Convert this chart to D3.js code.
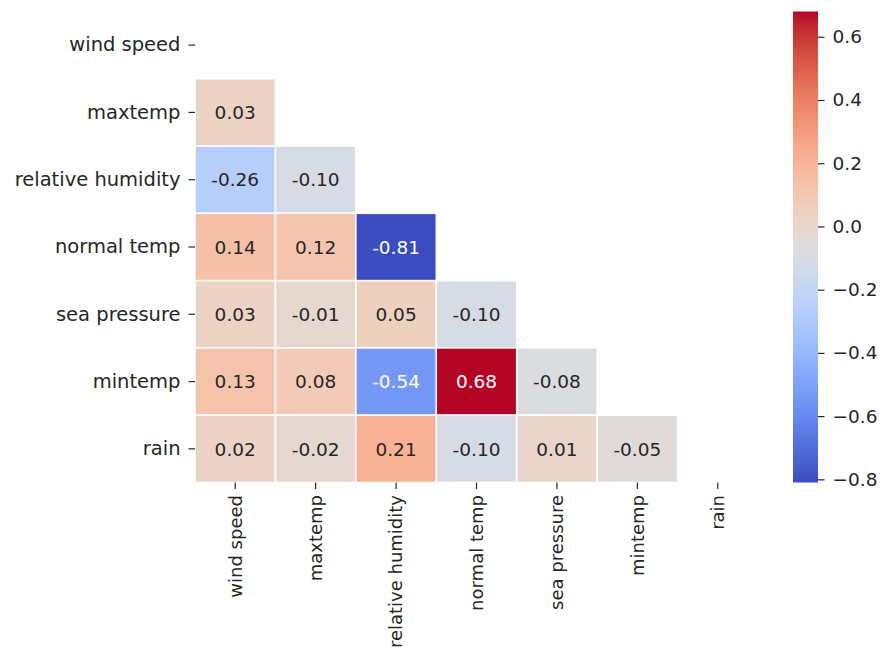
<!DOCTYPE html>
<html>
<head>
<meta charset="utf-8">
<script src="https://cdn.jsdelivr.net/npm/d3@7"></script>
<style>
  body { margin: 0; background: #fff; }
  svg text { font-family: "DejaVu Sans", sans-serif; }
</style>
</head>
<body>
<svg id="chart" width="882" height="651"></svg>
<script>
// Variable names, shared by rows and columns
const variables = ["wind speed", "maxtemp", "relative humidity", "normal temp", "sea pressure", "mintemp", "rain"];

// Lower triangle of the correlation matrix: row i holds columns 0..i-1
const corrRows = [
  [],
  [0.03],
  [-0.26, -0.10],
  [0.14, 0.12, -0.81],
  [0.03, -0.01, 0.05, -0.10],
  [0.13, 0.08, -0.54, 0.68, -0.08],
  [0.02, -0.02, 0.21, -0.10, 0.01, -0.05]
];

// Colour bar tick values
const colorbarTicks = [0.6, 0.4, 0.2, 0.0, -0.2, -0.4, -0.6, -0.8];

// Diverging "coolwarm" colour map anchors (evenly spaced, low to high)
const coolwarmStops = [
  [59,76,192],[68,90,204],[77,104,215],[87,117,225],[98,130,234],[108,142,241],
  [119,154,247],[130,165,251],[141,176,254],[152,185,255],[163,194,255],[174,201,253],
  [184,208,249],[194,213,244],[204,217,238],[213,219,230],[221,221,221],[229,216,209],
  [236,211,197],[241,204,185],[245,196,173],[247,187,160],[247,177,148],[247,166,135],
  [244,154,123],[241,141,111],[236,127,99],[229,112,88],[222,96,77],[213,80,66],
  [203,62,56],[192,40,47],[180,4,38]
];

const svg = d3.select("#chart");
const annotSize = 18.5;
const rowLabelSize = 19.5;
const colLabelSize = 18;
const cbLabelSize = 18.5;
const textDark = "#262626";

const cells = [];
corrRows.forEach((row, i) => row.forEach((v, j) => cells.push({ row: variables[i], col: variables[j], value: v })));

const vmin = d3.min(cells, d => d.value);
const vmax = d3.max(cells, d => d.value);

const coolwarm = d3.piecewise(d3.interpolateRgb, coolwarmStops.map(c => d3.rgb(c[0], c[1], c[2])));
const color = d3.scaleSequential(coolwarm).domain([vmin, vmax]);

const grid = { left: 195, right: 758, top: 11.5, bottom: 482.5 };
const x = d3.scaleBand().domain(variables).range([grid.left, grid.right]);
const y = d3.scaleBand().domain(variables).range([grid.top, grid.bottom]);

// Relative luminance, used to pick light or dark annotation text
function luminance(c) {
  const rgb = d3.rgb(c);
  const lin = [rgb.r, rgb.g, rgb.b].map(v => {
    v /= 255;
    return v <= 0.03928 ? v / 12.92 : Math.pow((v + 0.055) / 1.055, 2.4);
  });
  return 0.2126 * lin[0] + 0.7152 * lin[1] + 0.0722 * lin[2];
}

// Heatmap cells
const g = svg.append("g");
g.selectAll("rect.cell")
  .data(cells)
  .join("rect")
  .attr("class", "cell")
  .attr("x", d => x(d.col))
  .attr("y", d => y(d.row))
  .attr("width", x.bandwidth())
  .attr("height", y.bandwidth())
  .attr("fill", d => color(d.value))
  .attr("stroke", "#fff")
  .attr("stroke-width", 1.5);

g.selectAll("text.annot")
  .data(cells)
  .join("text")
  .attr("class", "annot")
  .attr("x", d => x(d.col) + x.bandwidth() / 2)
  .attr("y", d => y(d.row) + y.bandwidth() / 2)
  .attr("text-anchor", "middle")
  .attr("dy", "0.36em")
  .attr("font-size", annotSize)
  .attr("fill", d => luminance(color(d.value)) > 0.408 ? textDark : "#fff")
  .text(d => d3.format(".2f")(d.value).replace("−", "-"));

// Y axis
const yAxis = svg.append("g")
  .attr("transform", `translate(${grid.left},0)`)
  .call(d3.axisLeft(y).tickSize(6.5).tickPadding(8));
yAxis.select(".domain").remove();
yAxis.selectAll(".tick line").attr("stroke", textDark).attr("stroke-width", 1.2);
yAxis.selectAll(".tick text").attr("font-size", rowLabelSize).attr("fill", textDark)
  .attr("font-family", "DejaVu Sans, sans-serif");

// X axis with vertical labels
const xAxis = svg.append("g")
  .attr("transform", `translate(0,${grid.bottom})`)
  .call(d3.axisBottom(x).tickSize(6.5).tickPadding(6));
xAxis.select(".domain").remove();
xAxis.selectAll(".tick line").attr("stroke", textDark).attr("stroke-width", 1.2);
xAxis.selectAll(".tick text")
  .attr("font-size", colLabelSize).attr("fill", textDark)
  .attr("font-family", "DejaVu Sans, sans-serif")
  .attr("transform", "rotate(-90)")
  .attr("x", -12.5)
  .attr("y", 0)
  .attr("dy", "0.35em")
  .attr("text-anchor", "end");

// Colour bar
const cb = { left: 793, width: 25 };
const cbScale = d3.scaleLinear().domain([vmin, vmax]).range([grid.bottom, grid.top]);
const defs = svg.append("defs");
const grad = defs.append("linearGradient").attr("id", "cbGrad")
  .attr("x1", 0).attr("y1", 1).attr("x2", 0).attr("y2", 0);
d3.range(0, 1.0001, 1 / 64).forEach(t => {
  grad.append("stop").attr("offset", t).attr("stop-color", coolwarm(t));
});
svg.append("rect")
  .attr("x", cb.left)
  .attr("y", grid.top)
  .attr("width", cb.width)
  .attr("height", grid.bottom - grid.top)
  .attr("fill", "url(#cbGrad)");

const cbAxis = svg.append("g")
  .attr("transform", `translate(${cb.left + cb.width},0)`)
  .call(d3.axisRight(cbScale).tickValues(colorbarTicks).tickFormat(d3.format(".1f")).tickSize(6.5).tickPadding(8));
cbAxis.select(".domain").remove();
cbAxis.selectAll(".tick line").attr("stroke", textDark).attr("stroke-width", 1.2);
cbAxis.selectAll(".tick text").attr("font-size", cbLabelSize).attr("fill", textDark)
  .attr("font-family", "DejaVu Sans, sans-serif");
</script>
</body>
</html>
